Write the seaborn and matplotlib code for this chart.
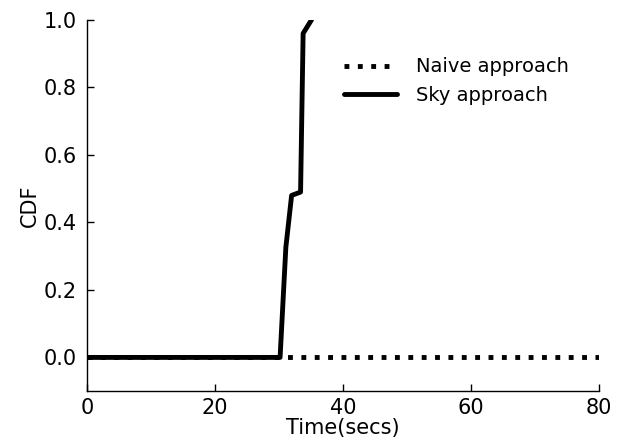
import matplotlib
matplotlib.use("Agg")
import matplotlib.pyplot as plt
import seaborn as sns
import pandas as pd

naive_x = [0, 80]
naive_y = [0.0, 0.0]
sky_x = [0, 30.2, 31.1, 32.0, 33.4, 33.8, 35.1]
sky_y = [0.0, 0.0, 0.326, 0.48, 0.49, 0.96, 1.0]

sns.set_style("white")
plt.rcParams['font.family'] = ['DejaVu Sans']
plt.rcParams['text.color'] = 'black'
plt.rcParams['axes.labelcolor'] = 'black'
plt.rcParams['xtick.color'] = 'black'
plt.rcParams['ytick.color'] = 'black'

fig = plt.figure(figsize=(6.29, 4.43), dpi=100)
ax = fig.add_axes([0.138, 0.117, 0.814, 0.838])

sns.lineplot(x=naive_x, y=naive_y, ax=ax, color='black', linewidth=3.5,
             linestyle=(0, (1, 1.75)), label='Naive approach', estimator=None, sort=False)
sns.lineplot(x=sky_x, y=sky_y, ax=ax, color='black', linewidth=3.5,
             linestyle='-', label='Sky approach', estimator=None, sort=False)

ax.set_xlim(0, 80)
ax.set_ylim(-0.1, 1.0)
ax.set_xticks([0, 20, 40, 60, 80])
ax.set_yticks([0.0, 0.2, 0.4, 0.6, 0.8, 1.0])
ax.set_yticklabels(['0.0', '0.2', '0.4', '0.6', '0.8', '1.0'])
ax.set_xlabel('Time(secs)', fontsize=15, labelpad=0)
ax.set_ylabel('CDF', fontsize=15, labelpad=3)
ax.tick_params(axis='both', direction='in', length=5, width=1, labelsize=15,
               bottom=True, left=True, top=False, right=False)
ax.tick_params(axis='y', pad=7)
ax.tick_params(axis='x', pad=5)
for s in ['top', 'right']:
    ax.spines[s].set_visible(False)
for s in ['left', 'bottom']:
    ax.spines[s].set_color('black')
    ax.spines[s].set_linewidth(1)

leg = ax.legend(loc='upper left', bbox_to_anchor=(0.488, 0.92), borderaxespad=0,
                frameon=False, fontsize=14, handlelength=2.7, handletextpad=1.0)

fig.savefig('out.png', dpi=100)
